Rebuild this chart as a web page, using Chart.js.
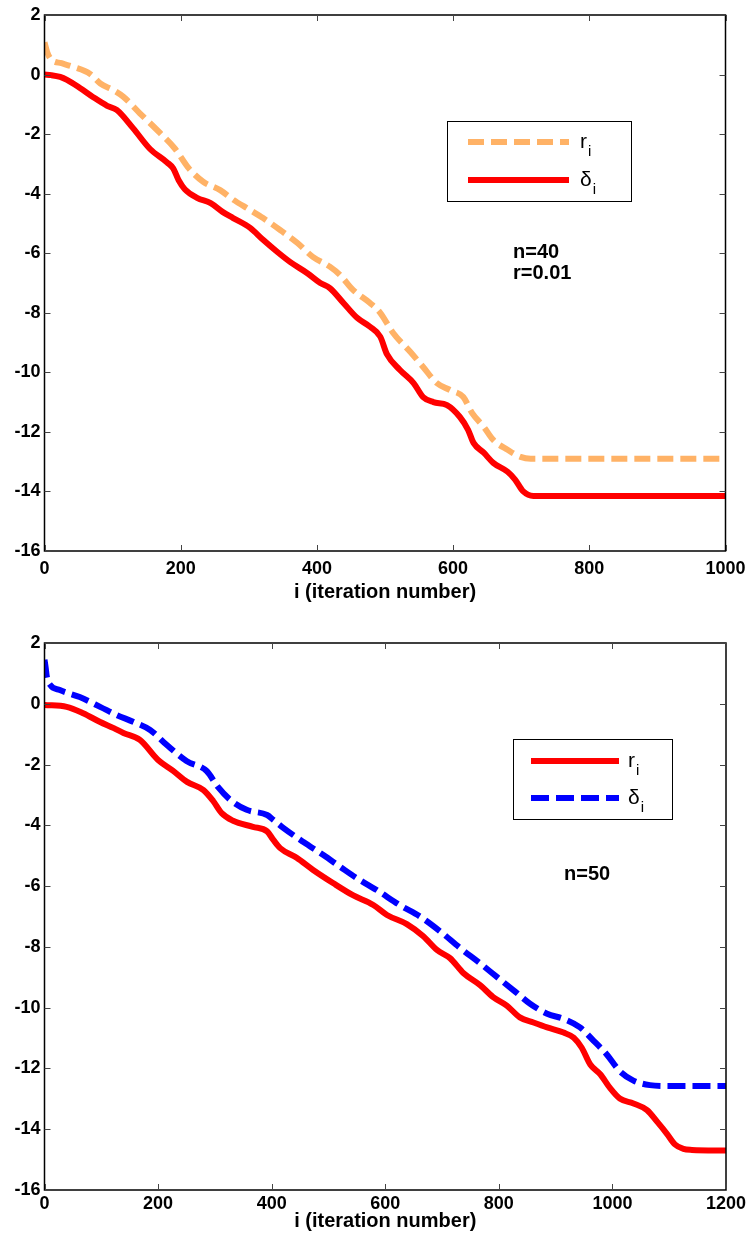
<!DOCTYPE html>
<html>
<head>
<meta charset="utf-8">
<script src="https://cdn.jsdelivr.net/npm/chart.js@4.4.1/dist/chart.umd.min.js"></script>
<style>
html,body{margin:0;padding:0;background:#fff;}
#wrap1{position:absolute;left:0;top:0;width:753px;height:620px;}
#wrap2{position:absolute;left:0;top:620px;width:753px;height:614px;}
canvas{display:block;}
</style>
</head>
<body>
<div id="wrap1"><canvas id="c1" width="753" height="620"></canvas></div>
<div id="wrap2"><canvas id="c2" width="753" height="614"></canvas></div>
<script>
// ---------- DATA ----------
// Top panel (n=40, r=0.01), x range 0..1000
const topDeltaI = [0, 10, 23, 33, 52, 71, 92, 106, 130, 155, 180, 189, 197, 206, 224, 244, 262, 277, 302, 321, 342, 361, 386, 405, 419, 439, 459, 478, 493, 503, 522, 542, 556, 571, 591, 610, 622, 630, 645, 659, 680, 691, 703, 718, 1000];
const topDeltaV = [0, -0.02, -0.08, -0.18, -0.45, -0.75, -1.05, -1.19, -1.8, -2.5, -2.95, -3.15, -3.55, -3.85, -4.14, -4.32, -4.62, -4.82, -5.15, -5.55, -5.96, -6.3, -6.67, -7.0, -7.17, -7.67, -8.17, -8.47, -8.8, -9.4, -9.92, -10.36, -10.83, -11.0, -11.1, -11.5, -11.93, -12.37, -12.7, -13.04, -13.34, -13.6, -14.0, -14.15, -14.15];
const topRI = [0, 4, 10, 25, 42, 67, 82, 101, 116, 140, 170, 192, 212, 233, 258, 277, 302, 321, 346, 371, 394, 419, 434, 453, 478, 493, 512, 537, 556, 576, 596, 615, 628, 645, 659, 680, 699, 714, 1000];
const topRV = [1.08, 0.75, 0.5, 0.38, 0.26, 0.02, -0.3, -0.52, -0.75, -1.3, -1.97, -2.5, -3.15, -3.6, -3.88, -4.2, -4.55, -4.82, -5.22, -5.65, -6.12, -6.45, -6.73, -7.23, -7.67, -8.0, -8.68, -9.31, -9.82, -10.36, -10.6, -10.83, -11.37, -11.83, -12.27, -12.6, -12.84, -12.9, -12.9];

// Bottom panel (n=50), x range 0..1200
const botRI = [0, 39, 68, 98, 122, 139, 168, 200, 226, 251, 280, 297, 312, 332, 367, 392, 403, 415, 444, 473, 508, 543, 579, 603, 638, 667, 691, 714, 738, 767, 790, 814, 837, 861, 885, 914, 932, 946, 961, 979, 996, 1013, 1037, 1061, 1079, 1096, 1110, 1125, 1140, 1200];
const botRV = [-0.04, -0.1, -0.31, -0.6, -0.8, -0.96, -1.19, -1.85, -2.2, -2.57, -2.84, -3.2, -3.6, -3.85, -4.05, -4.2, -4.48, -4.75, -5.07, -5.47, -5.9, -6.3, -6.62, -6.95, -7.25, -7.65, -8.1, -8.37, -8.87, -9.26, -9.65, -9.93, -10.32, -10.49, -10.65, -10.82, -10.99, -11.32, -11.87, -12.2, -12.65, -12.99, -13.15, -13.37, -13.76, -14.15, -14.5, -14.65, -14.68, -14.7];
const botDeltaI = [0, 2, 4, 10, 27, 62, 98, 127, 157, 186, 215, 250, 286, 305, 327, 356, 392, 403, 421, 456, 491, 521, 550, 585, 626, 661, 696, 732, 767, 796, 826, 855, 885, 914, 943, 967, 990, 1013, 1037, 1066, 1096, 1200];
const botDeltaV = [1.45, 1.2, 0.9, 0.62, 0.45, 0.22, -0.1, -0.37, -0.6, -0.86, -1.35, -1.88, -2.22, -2.73, -3.16, -3.49, -3.66, -3.82, -4.09, -4.55, -4.98, -5.37, -5.74, -6.13, -6.63, -7.0, -7.48, -8.04, -8.54, -8.98, -9.43, -9.87, -10.2, -10.37, -10.65, -11.09, -11.54, -12.09, -12.4, -12.55, -12.58, -12.58];

// Tick values
const yTickVals = [2, 0, -2, -4, -6, -8, -10, -12, -14, -16];
const xTickValsTop = [0, 200, 400, 600, 800, 1000];
const xTickValsBot = [0, 200, 400, 600, 800, 1000, 1200];
const xAxisTitle = 'i (iteration number)';

// ---------- HELPERS ----------
const FONT = "'Liberation Sans', Arial, Helvetica, sans-serif";
const pts = (xs, ys) => xs.map((x, k) => ({x: x, y: ys[k]}));

const framePlugin = {
  id: 'mlFrame',
  afterDraw(chart, args, opts) {
    const ctx = chart.ctx, a = chart.chartArea;
    const xs = chart.scales.x, ys = chart.scales.y;
    ctx.save();
    ctx.strokeStyle = '#000';
    ctx.lineWidth = 1.5;
    ctx.strokeRect(a.left, a.top, a.right - a.left, a.bottom - a.top);
    const L = 6;
    ctx.lineWidth = 1;
    ctx.strokeStyle = '#444';
    ctx.beginPath();
    xs.ticks.forEach(t => {
      const px = Math.round(xs.getPixelForValue(t.value)) + 0.5;
      ctx.moveTo(px, a.bottom); ctx.lineTo(px, a.bottom - L);
      ctx.moveTo(px, a.top); ctx.lineTo(px, a.top + L);
    });
    ys.ticks.forEach(t => {
      const py = Math.round(ys.getPixelForValue(t.value)) + 0.5;
      ctx.moveTo(a.left, py); ctx.lineTo(a.left + L, py);
      ctx.moveTo(a.right, py); ctx.lineTo(a.right - L, py);
    });
    ctx.stroke();
    // axis title
    ctx.fillStyle = '#000';
    ctx.font = "bold 20px " + FONT;
    ctx.textAlign = 'center';
    ctx.textBaseline = 'middle';
    ctx.fillText(opts.title, (a.left + a.right) / 2, opts.titleY);
    // legend box
    const lg = opts.legend;
    ctx.fillStyle = '#fff';
    ctx.fillRect(lg.x, lg.y, lg.w, lg.h);
    ctx.strokeStyle = '#000';
    ctx.lineWidth = 1;
    ctx.strokeRect(lg.x + 0.5, lg.y + 0.5, lg.w, lg.h);
    const dsets = chart.data.datasets;
    lg.rows.forEach((row, k) => {
      const ds = dsets[k];
      ctx.save();
      ctx.strokeStyle = ds.borderColor;
      ctx.lineWidth = ds.borderWidth;
      ctx.setLineDash(ds.borderDash || []);
      ctx.beginPath();
      ctx.moveTo(lg.x1, row.y); ctx.lineTo(lg.x2, row.y);
      ctx.stroke();
      ctx.restore();
      ctx.fillStyle = '#000';
      ctx.textAlign = 'left';
      ctx.textBaseline = 'alphabetic';
      ctx.font = "21px " + FONT;
      ctx.fillText(row.sym, lg.tx, row.y + 6);
      const w = ctx.measureText(row.sym).width;
      ctx.font = "15px " + FONT;
      ctx.fillText('i', lg.tx + w + 1, row.y + 14);
    });
    // annotations
    ctx.font = "bold 20px " + FONT;
    ctx.textAlign = 'left';
    ctx.textBaseline = 'middle';
    opts.notes.forEach(n => ctx.fillText(n.text, n.x, n.y));
    ctx.restore();
  }
};

function makeChart(id, datasets, xMax, xTicks, opts) {
  return new Chart(document.getElementById(id), {
    type: 'line',
    data: {datasets: datasets},
    options: {
      responsive: false,
      animation: false,
      layout: {padding: {left: 0, right: opts.padRight, top: opts.padTop, bottom: 0}},
      plugins: {
        legend: {display: false},
        tooltip: {enabled: false},
        mlFrame: opts.frame
      },
      elements: {point: {radius: 0}, line: {cubicInterpolationMode: 'monotone', borderCapStyle: 'butt'}},
      scales: {
        x: {
          type: 'linear', min: 0, max: xMax,
          grid: {display: false, drawTicks: false},
          border: {display: false},
          afterBuildTicks: s => { s.ticks = xTicks.map(v => ({value: v})); },
          afterFit: s => { s.height = opts.xAxisH; },
          ticks: {color: '#000', padding: opts.xPad, maxRotation: 0, autoSkip: false,
                  callback: v => String(v),
                  font: {family: FONT, size: 18, weight: 'bold'}}
        },
        y: {
          type: 'linear', min: -16, max: 2,
          grid: {display: false, drawTicks: false},
          border: {display: false},
          afterBuildTicks: s => { s.ticks = yTickVals.map(v => ({value: v})); },
          afterFit: s => { s.width = 44.5; },
          ticks: {color: '#000', padding: 4, autoSkip: false,
                  callback: v => String(v),
                  font: {family: FONT, size: 18, weight: 'bold'}}
        }
      }
    },
    plugins: [framePlugin]
  });
}

// Top chart
makeChart('c1', [
  {label: 'r_i', data: pts(topRI, topRV), borderColor: '#FFB266', borderWidth: 6, borderDash: [16, 7], fill: false},
  {label: 'δ_i', data: pts(topDeltaI, topDeltaV), borderColor: '#FF0000', borderWidth: 6, fill: false}
], 1000, xTickValsTop, {
  padRight: 27.5, padTop: 15, xAxisH: 69, xPad: 7,
  frame: {
    title: xAxisTitle, titleY: 592,
    legend: {x: 447, y: 121, w: 184, h: 80, x1: 468, x2: 569, tx: 580,
      rows: [{sym: 'r', y: 142}, {sym: 'δ', y: 180}]},
    notes: [{text: 'n=40', x: 513, y: 252}, {text: 'r=0.01', x: 513, y: 273}]
  }
});

// Bottom chart
makeChart('c2', [
  {label: 'r_i', data: pts(botRI, botRV), borderColor: '#FF0000', borderWidth: 6, fill: false},
  {label: 'δ_i', data: pts(botDeltaI, botDeltaV), borderColor: '#0000FF', borderWidth: 6, borderDash: [18, 7], fill: false}
], 1200, xTickValsBot, {
  padRight: 27, padTop: 23, xAxisH: 44, xPad: 3,
  frame: {
    title: xAxisTitle, titleY: 601,
    legend: {x: 513, y: 119, w: 159, h: 80, x1: 531, x2: 619, tx: 628,
      rows: [{sym: 'r', y: 141}, {sym: 'δ', y: 178}]},
    notes: [{text: 'n=50', x: 564, y: 254}]
  }
});
</script>
</body>
</html>
